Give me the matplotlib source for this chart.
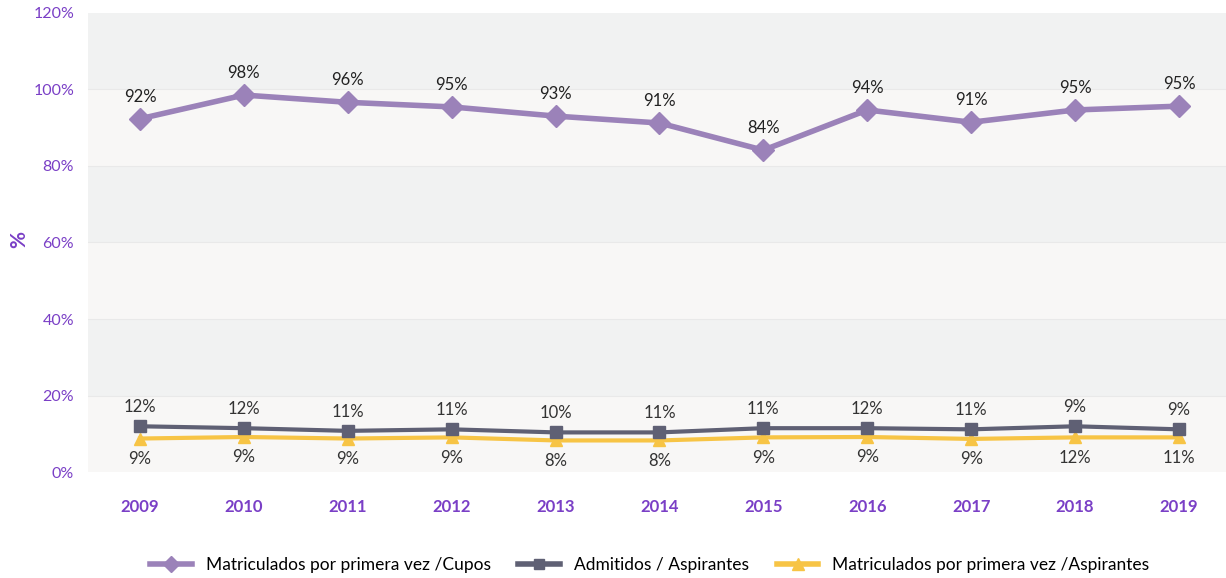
import matplotlib
matplotlib.use("Agg")
import matplotlib.pyplot as plt
from matplotlib.lines import Line2D

years = ["2009", "2010", "2011", "2012", "2013", "2014", "2015", "2016", "2017", "2018", "2019"]
mat_cupos = [92.3, 98.5, 96.6, 95.4, 93.0, 91.2, 84.1, 94.6, 91.4, 94.6, 95.6]
admitidos = [12.0, 11.5, 10.8, 11.2, 10.4, 10.4, 11.5, 11.5, 11.2, 12.0, 11.2]
mat_asp = [8.8, 9.2, 8.8, 9.1, 8.3, 8.3, 9.1, 9.2, 8.7, 9.1, 9.1]

lbl_cupos = ["92%", "98%", "96%", "95%", "93%", "91%", "84%", "94%", "91%", "95%", "95%"]
lbl_adm = ["12%", "12%", "11%", "11%", "10%", "11%", "11%", "12%", "11%", "9%", "9%"]
lbl_asp = ["9%", "9%", "9%", "9%", "8%", "8%", "9%", "9%", "9%", "12%", "11%"]

series_names = ["Matriculados por primera vez /Cupos", "Admitidos / Aspirantes",
                "Matriculados por primera vez /Aspirantes"]

PURPLE = "#9b82b9"
GREY = "#5f6074"
YELLOW = "#f7c445"
AXIS_PURPLE = "#7a3fc6"
FONT = "Lato"

fig = plt.figure(figsize=(12.26, 5.78), dpi=100)
ax = fig.add_axes([0.0718, 0.183, 0.928, 0.795])

x = list(range(len(years)))

# alternating bands
band_cols = ["#f8f7f6", "#f1f2f2"]
for i, lo in enumerate(range(0, 120, 20)):
    ax.axhspan(lo, lo + 20, color=band_cols[i % 2], zorder=0, lw=0)
for v in range(20, 120, 20):
    ax.axhline(v, color="#e9e9e9", lw=0.8, zorder=0.5)

ax.plot(x, mat_cupos, color=PURPLE, lw=4, marker="D", ms=11, zorder=3)
ax.plot(x, admitidos, color=GREY, lw=3, marker="s", ms=8, zorder=3)
ax.plot(x, mat_asp, color=YELLOW, lw=3, marker="^", ms=9, zorder=2)

for xi, v, t in zip(x, mat_cupos, lbl_cupos):
    ax.annotate(t, (xi, v), xytext=(0, 10), textcoords="offset points",
                ha="center", va="bottom", fontsize=12, color="#222222", family=FONT)
for xi, v, t in zip(x, admitidos, lbl_adm):
    ax.annotate(t, (xi, v), xytext=(0, 8), textcoords="offset points",
                ha="center", va="bottom", fontsize=12, color="#333333", family=FONT)
for xi, v, t in zip(x, mat_asp, lbl_asp):
    ax.annotate(t, (xi, v), xytext=(0, -9), textcoords="offset points",
                ha="center", va="top", fontsize=12, color="#333333", family=FONT)

ax.set_xlim(-0.5, 10.45)
ax.set_ylim(0, 120)
ax.set_xticks(x)
ax.set_xticklabels(years, fontsize=12, fontweight="bold", color=AXIS_PURPLE, family=FONT)
ax.set_yticks(range(0, 121, 20))
ax.set_yticklabels([f"{v}%" for v in range(0, 121, 20)], fontsize=11.5,
                   color=AXIS_PURPLE, family=FONT)
ax.tick_params(axis="x", length=0, pad=19)
ax.tick_params(axis="y", length=0, pad=10)
for s in ax.spines.values():
    s.set_visible(False)
fig.text(0.016, 0.585, "%", rotation=90, ha="center", va="center", fontsize=15,
         fontweight="bold", color=AXIS_PURPLE, family=FONT)

handles = [
    Line2D([], [], color=PURPLE, lw=4, marker="D", ms=8),
    Line2D([], [], color=GREY, lw=4, marker="s", ms=7),
    Line2D([], [], color=YELLOW, lw=4, marker="^", ms=9),
]
fig.legend(handles, series_names, loc="center", bbox_to_anchor=(0.53, 0.022),
           ncol=3, frameon=False, handlelength=2.4, columnspacing=1.6,
           prop={"family": FONT, "size": 12.5})

fig.savefig("out.png", dpi=100, facecolor="white")
